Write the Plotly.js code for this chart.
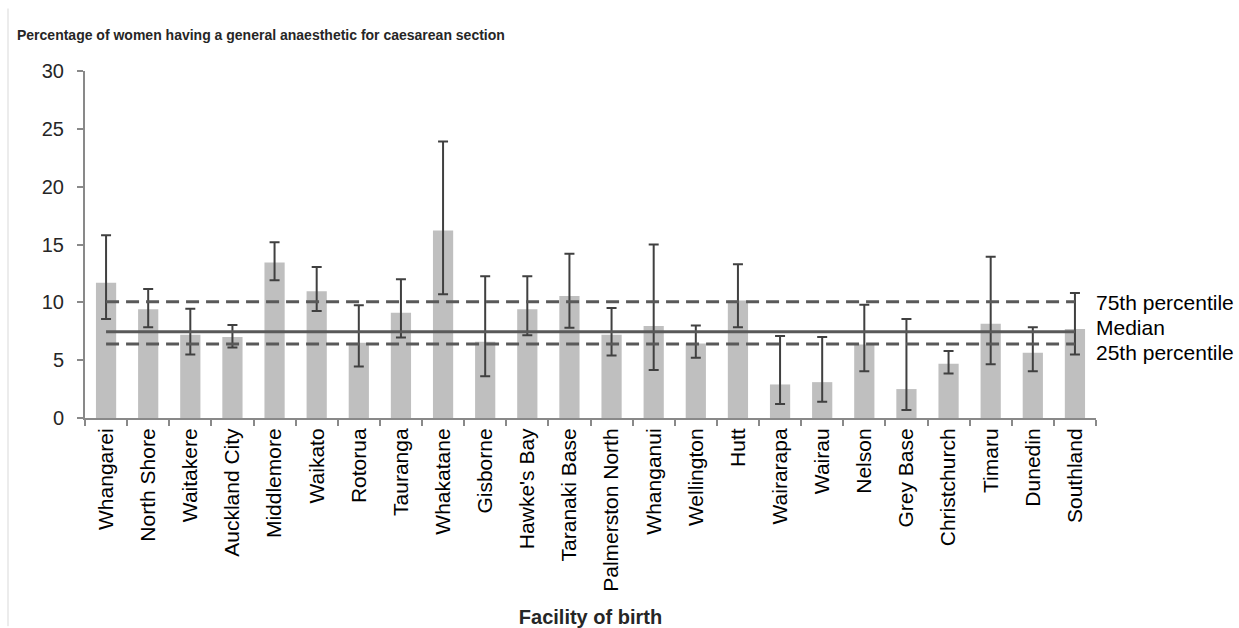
<!DOCTYPE html>
<html>
<head>
<meta charset="utf-8">
<script src="https://cdn.plot.ly/plotly-3.0.1.min.js"></script>
<style>
  html, body { margin: 0; padding: 0; background: #ffffff; }
  #chart { width: 1239px; height: 628px; }
</style>
</head>
<body>
<div id="chart"></div>
<script>
// Categories (facility of birth)
const facilities = [
  "Whangarei", "North Shore", "Waitakere", "Auckland City", "Middlemore", "Waikato",
  "Rotorua", "Tauranga", "Whakatane", "Gisborne", "Hawke's Bay", "Taranaki Base",
  "Palmerston North", "Whanganui", "Wellington", "Hutt", "Wairarapa", "Wairau",
  "Nelson", "Grey Base", "Christchurch", "Timaru", "Dunedin", "Southland"
];
// Percentage having a general anaesthetic
const percent = [
  11.7, 9.4, 7.2, 7.0, 13.45, 10.95,
  6.5, 9.1, 16.2, 6.6, 9.4, 10.55,
  7.2, 7.95, 6.45, 10.15, 2.9, 3.1,
  6.35, 2.5, 4.7, 8.15, 5.65, 7.7
];
// 95% confidence interval bounds
const ciLower = [
  8.55, 7.85, 5.5, 6.1, 11.9, 9.25,
  4.45, 6.95, 10.7, 3.6, 7.15, 7.8,
  5.4, 4.15, 5.2, 7.85, 1.2, 1.4,
  4.05, 0.7, 3.85, 4.65, 4.05, 5.5
];
const ciUpper = [
  15.8, 11.15, 9.45, 8.05, 15.2, 13.05,
  9.75, 12.0, 23.9, 12.25, 12.25, 14.2,
  9.5, 15.0, 8.0, 13.3, 7.1, 7.0,
  9.8, 8.55, 5.8, 13.95, 7.85, 10.8
];
// National reference values
const p75 = 10.05;
const median = 7.45;
const p25 = 6.4;

const refLabels = ["75th percentile", "Median", "25th percentile"];
const refLabelY = [9.97, 7.8, 5.67];

const errPlus = percent.map((v, i) => ciUpper[i] - v);
const errMinus = percent.map((v, i) => v - ciLower[i]);

const first = facilities[0];
const last = facilities[facilities.length - 1];

const traces = [
  {
    type: "bar",
    x: facilities,
    y: percent,
    marker: { color: "#bfbfbf" },
    error_y: {
      type: "data",
      symmetric: false,
      array: errPlus,
      arrayminus: errMinus,
      color: "#404040",
      thickness: 2,
      width: 5
    },
    hoverinfo: "x+y"
  },
  {
    type: "scatter", mode: "lines",
    x: [first, last], y: [p75, p75],
    line: { color: "#595959", width: 3, dash: "13px,7px" },
    hoverinfo: "skip"
  },
  {
    type: "scatter", mode: "lines",
    x: [first, last], y: [median, median],
    line: { color: "#595959", width: 3 },
    hoverinfo: "skip"
  },
  {
    type: "scatter", mode: "lines",
    x: [first, last], y: [p25, p25],
    line: { color: "#595959", width: 3, dash: "13px,7px" },
    hoverinfo: "skip"
  }
];

const annotations = refLabels.map((t, i) => ({
  text: t,
  xref: "paper", yref: "y",
  x: 1, y: refLabelY[i],
  xanchor: "left", yanchor: "middle",
  xshift: -2,
  showarrow: false,
  font: { family: "Liberation Sans, Arial, sans-serif", size: 21, color: "#000000" }
}));

const layout = {
  width: 1239,
  height: 628,
  margin: { l: 85, r: 143, t: 71, b: 210 },
  paper_bgcolor: "#ffffff",
  plot_bgcolor: "#ffffff",
  showlegend: false,
  bargap: 0.52,
  font: { family: "Liberation Sans, Arial, sans-serif", size: 20, color: "#262626" },
  title: {
    text: "<b>Percentage of women having a general anaesthetic for caesarean section</b>",
    font: { family: "Liberation Sans, Arial, sans-serif", size: 14, color: "#262626" },
    xref: "container", x: 17 / 1239, xanchor: "left",
    yref: "container", y: 1 - 35 / 628, yanchor: "middle"
  },
  xaxis: {
    type: "category",
    showline: true,
    linecolor: "#898989",
    linewidth: 2,
    ticks: "outside",
    tickson: "boundaries",
    ticklen: 6,
    tickcolor: "#898989",
    tickwidth: 2,
    tickangle: -90,
    tickfont: { family: "Liberation Sans, Arial, sans-serif", size: 21, color: "#000000" },
    showgrid: false,
    zeroline: false,
    title: {
      text: "<b>Facility of birth</b>",
      font: { family: "Liberation Sans, Arial, sans-serif", size: 20, color: "#262626" },
      standoff: 20
    }
  },
  yaxis: {
    range: [0, 30],
    tickvals: [0, 5, 10, 15, 20, 25, 30],
    showline: true,
    linecolor: "#898989",
    linewidth: 2,
    ticks: "outside",
    ticklen: 6,
    tickcolor: "#898989",
    tickwidth: 2,
    ticklabelstandoff: 9,
    tickfont: { family: "Liberation Sans, Arial, sans-serif", size: 20, color: "#262626" },
    showgrid: false,
    zeroline: false
  },
  annotations: annotations,
  shapes: [
    {
      type: "line", xref: "paper", yref: "paper",
      x0: (8 - 85) / (1239 - 85 - 143), x1: (8 - 85) / (1239 - 85 - 143),
      y0: -0.6, y1: 1.18,
      line: { color: "#d9d9d9", width: 1 }
    }
  ]
};

Plotly.newPlot("chart", traces, layout, { displayModeBar: false, staticPlot: true });
</script>
</body>
</html>
